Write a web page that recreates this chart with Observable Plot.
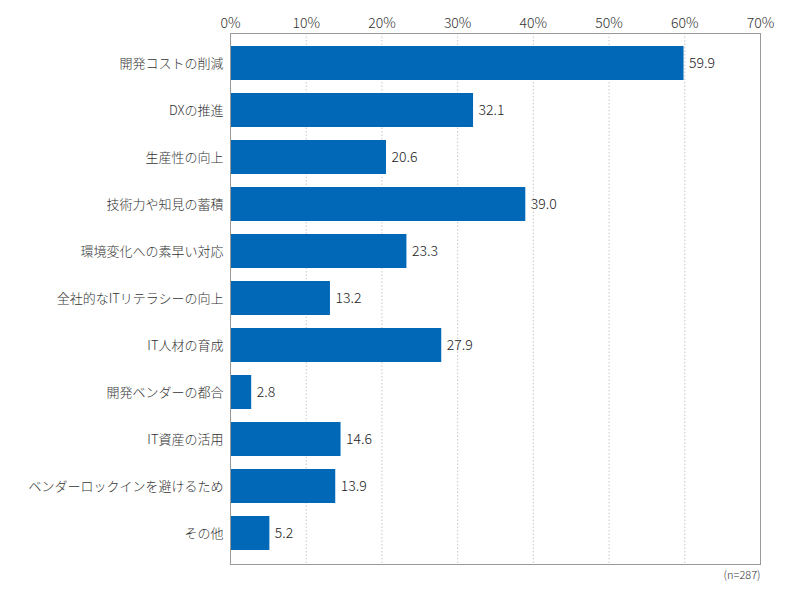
<!DOCTYPE html>
<html><head><meta charset="utf-8">
<script src="https://cdn.jsdelivr.net/npm/d3@7"></script>
<script src="https://cdn.jsdelivr.net/npm/@observablehq/plot@0.6"></script>
<style>body{margin:0;background:#fff;font-family:"Noto Sans CJK JP",sans-serif;} svg text{font-weight:300;}</style>
</head><body><div id="chart"></div>
<script>
const categories = ["開発コストの削減","DXの推進","生産性の向上","技術力や知見の蓄積","環境変化への素早い対応","全社的なITリテラシーの向上","IT人材の育成","開発ベンダーの都合","IT資産の活用","ベンダーロックインを避けるため","その他"];
const values = [59.9,32.1,20.6,39.0,23.3,13.2,27.9,2.8,14.6,13.9,5.2];
const ticks = [0,10,20,30,40,50,60,70];
const note = "(n=287)";
const data = categories.map((c,i)=>({cat:c, v:values[i]}));
const chart = Plot.plot({
  width: 800, height: 600,
  marginLeft: 230, marginRight: 40, marginTop: 33, marginBottom: 36,
  style: {fontFamily: '"Noto Sans CJK JP",sans-serif', fontSize: "13px", fontWeight: "300", color: "#333", background: "#fff"},
  x: {domain: [0,70], label: null},
  y: {domain: categories, label: null, padding: 0.29},
  marks: [
    Plot.ruleX(ticks.slice(1,-1), {stroke: "#c8c8c8", strokeDasharray: "1.5,2"}),
    Plot.barX(data, {y: "cat", x: "v", fill: "#0068b7", insetTop: -1}),
    Plot.text(data, {y: "cat", x: "v", text: d => d.v.toFixed(1), textAnchor: "start", dx: 5, fill: "#222", fontSize: 14, fontWeight: 300}),
    Plot.frame({stroke: "#999"}),
    Plot.axisX({anchor: "top", ticks: ticks, tickFormat: d => d + "%", tickSize: 0, tickPadding: 6, fontSize: 14, fontWeight: 300, fill: "#333", label: null}),
    Plot.axisY({tickSize: 0, tickPadding: 7, fontSize: 13, fontWeight: 300, fill: "#333", label: null}),
    Plot.text([note], {frameAnchor: "bottom-right", dy: 14, fontSize: 11, fill: "#333", textAnchor: "end", fontWeight: 300})
  ]
});
document.getElementById("chart").appendChild(chart);
</script></body></html>
